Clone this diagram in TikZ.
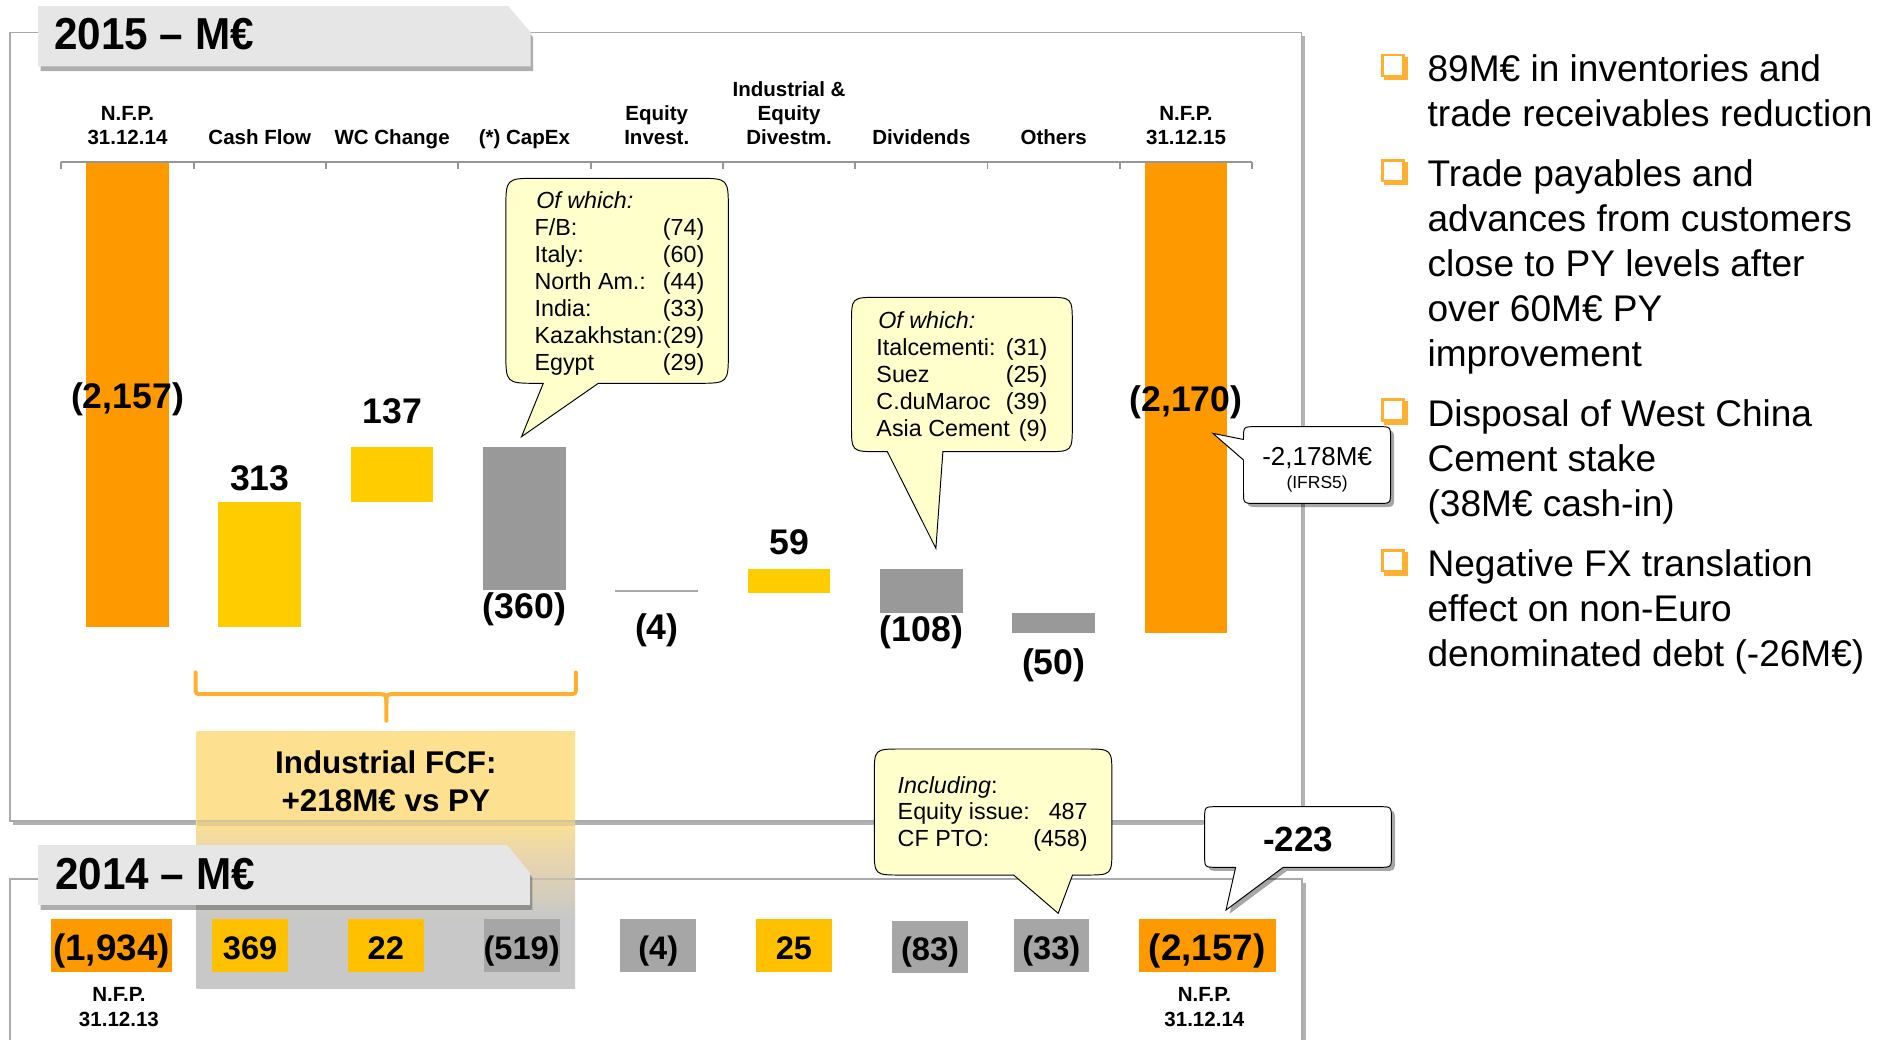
\documentclass[tikz,border=0pt]{standalone}
\usepackage{fontspec}
\setmainfont{Liberation Sans}
\usetikzlibrary{shadows}
\definecolor{nfp}{RGB}{255,153,0}
\definecolor{posbar}{RGB}{255,204,0}
\definecolor{posbox}{RGB}{255,192,0}
\definecolor{negbar}{RGB}{153,153,153}
\definecolor{negbox}{RGB}{166,166,166}
\definecolor{notefill}{RGB}{255,255,204}
\definecolor{tabgray}{RGB}{230,230,230}
\definecolor{framegray}{RGB}{170,170,170}
\definecolor{axisgray}{RGB}{150,150,150}
\definecolor{accent}{RGB}{255,176,48}
\definecolor{fcftop}{RGB}{253,225,145}
\definecolor{fcfmid}{RGB}{236,215,168}
\definecolor{fcfbot}{RGB}{200,200,200}
\pgfdeclareverticalshading{fcfshade}{100bp}{color(0bp)=(fcfbot); color(38.8bp)=(fcfbot); color(52bp)=(fcfmid); color(58bp)=(fcftop); color(100bp)=(fcftop)}
\newcommand\bulletsq[1]{%
  \fill[accent] (1146.5,#1-20.5) rectangle (1166,#1-1);
  \draw[accent, line width=2.2, fill=white] (1145.1,#1-21.9) rectangle (1162.4,#1-4.6);}
\begin{document}
\begin{tikzpicture}[x=1pt,y=-1pt,
  lbl/.style={inner sep=0pt, anchor=base, font=\fontsize{17}{20}\selectfont\bfseries},
  valtxt/.style={inner sep=0pt, anchor=base, font=\fontsize{29.5}{34}\selectfont\bfseries},
  notetxt/.style={inner sep=0pt, anchor=base west, font=\fontsize{19.3}{22}\selectfont},
  noteR/.style={notetxt, anchor=base east},
  bul/.style={inner sep=0pt, anchor=base west, font=\fontsize{30.7}{36}\selectfont},
  boxval/.style={inner sep=0pt, anchor=base, font=\fontsize{27}{30}\selectfont\bfseries},
  bigval/.style={inner sep=0pt, anchor=base, font=\fontsize{30.5}{34}\selectfont\bfseries},
  tabtitle/.style={inner sep=0pt, anchor=base west, font=\fontsize{35}{40}\selectfont\bfseries, yscale=1.06},
  framebox/.style={draw=framegray, line width=1.5, fill=white, drop shadow={shadow xshift=3pt, shadow yshift=-3pt, opacity=.3, fill=black}},
  tabshape/.style={fill=tabgray, drop shadow={shadow xshift=2pt, shadow yshift=-4pt, opacity=.45, fill=black!70}},
  yellownote/.style={draw=black, line width=0.8, fill=notefill},
  whitenote/.style={draw=black, line width=0.8, fill=white, drop shadow={shadow xshift=3pt, shadow yshift=-3pt, opacity=.35, fill=black}},
]
\clip (0,0) rectangle (1568,861);
\fill[white] (0,0) rectangle (1568,861);

% frames
\path[framebox] (8,27) rectangle (1078,680);
\path[framebox] (8.4,728.4) rectangle (1078.5,900);

% 2015 tab
\path[tabshape] (31.6,5) -- (421,5) -- (439.6,27) -- (439.6,55) -- (31.6,55) -- cycle;
\node[tabtitle] (t15) at (44.6,41.4) {2015 – M€};

% axis
\draw[axisgray, line width=1.7] (50.8,134.5) -- (1037.2,134.5);
\foreach \i in {0,...,9} \draw[axisgray, line width=1.5] ({50.8+109.6*\i},134.5) -- ++(0,5.5);

% category labels
\node[lbl] (c0a) at (105.6,100) {N.F.P.};
\node[lbl] (c0b) at (105.6,119.3) {31.12.14};
\node[lbl] (c1) at (215.2,119.3) {Cash Flow};
\node[lbl] (c2) at (324.8,119.3) {WC Change};
\node[lbl] (c3) at (434.4,119.3) {(*) CapEx};
\node[lbl] (c4a) at (544,99.6) {Equity};
\node[lbl] (c4b) at (544,119.3) {Invest.};
\node[lbl] (c5a) at (653.6,79.8) {Industrial \&};
\node[lbl] (c5b) at (653.6,99.6) {Equity};
\node[lbl] (c5c) at (653.6,119.3) {Divestm.};
\node[lbl] (c6) at (763.2,119.3) {Dividends};
\node[lbl] (c7) at (872.8,119.3) {Others};
\node[lbl] (c8a) at (982.4,100) {N.F.P.};
\node[lbl] (c8b) at (982.4,119.3) {31.12.15};

% bars
\fill[nfp] (71.35,135) rectangle (139.85,519);
\fill[posbar] (180.95,415.8) rectangle (249.45,519);
\fill[posbar] (290.55,370) rectangle (359.05,415.8);
\fill[negbar] (400.15,370) rectangle (468.65,488.7);
\fill[negbar!85] (509.75,488.7) rectangle (578.25,490.6);
\fill[posbar] (619.35,471.3) rectangle (687.85,491);
\fill[negbar] (728.95,471.3) rectangle (797.45,507.5);
\fill[negbar] (838.55,507.5) rectangle (907.05,524);
\fill[nfp] (948.15,135) rectangle (1016.65,524);

% values
\node[valtxt] (v0) at (105.6,338.2) {(2,157)};
\node[valtxt] (v1) at (215.2,405.9) {313};
\node[valtxt] (v2) at (324.8,350.6) {137};
\node[valtxt] (v3) at (434.4,512.2) {(360)};
\node[valtxt] (v4) at (544,530.1) {(4)};
\node[valtxt] (v5) at (653.6,459.7) {59};
\node[valtxt] (v6) at (763.2,531.5) {(108)};
\node[valtxt] (v7) at (872.8,559.1) {(50)};
\node[valtxt] (v8) at (982.4,341) {(2,170)};

% callout CapEx
\path[yellownote] (450,317.5) -- (432,361.7) -- (495.6,317.5) -- (577.3,317.5) .. controls (603.3,317.5) .. (603.3,291.5) -- (603.3,173.7) .. controls (603.3,147.7) .. (577.3,147.7) -- (445,147.7) .. controls (419,147.7) .. (419,173.7) -- (419,291.5) .. controls (419,317.5) .. (445,317.5) -- cycle;
\node[notetxt] (k0) at (444,172.5) {\itshape Of which:};
\node[notetxt] (k1) at (442.6,194.9) {F/B:};
\node[noteR] (k1n) at (583.6,194.9) {(74)};
\node[notetxt] (k2) at (442.6,217.3) {Italy:};
\node[noteR] (k2n) at (583.6,217.3) {(60)};
\node[notetxt] (k3) at (442.6,239.7) {North Am.:};
\node[noteR] (k3n) at (583.6,239.7) {(44)};
\node[notetxt] (k4) at (442.6,262.1) {India:};
\node[noteR] (k4n) at (583.6,262.1) {(33)};
\node[notetxt] (k5) at (442.6,284.5) {Kazakhstan:(29)};
\node[notetxt] (k6) at (442.6,306.9) {Egypt};
\node[noteR] (k6n) at (583.6,306.9) {(29)};

% callout dividends
\path[yellownote] (735,374.1) -- (775.2,454.2) -- (781,374.1) -- (866.2,374.1) .. controls (888.2,374.1) .. (888.2,352.1) -- (888.2,268.3) .. controls (888.2,246.3) .. (866.2,246.3) -- (727.3,246.3) .. controls (705.3,246.3) .. (705.3,268.3) -- (705.3,352.1) .. controls (705.3,374.1) .. (727.3,374.1) -- cycle;
\node[notetxt] (d0) at (727.3,272) {\itshape Of which:};
\node[notetxt] (d1) at (725.8,294.6) {Italcementi:};
\node[noteR] (d1n) at (867.7,294.6) {(31)};
\node[notetxt] (d2) at (725.8,317) {Suez};
\node[noteR] (d2n) at (867.7,317) {(25)};
\node[notetxt] (d3) at (725.8,339.4) {C.duMaroc};
\node[noteR] (d3n) at (867.7,339.4) {(39)};
\node[notetxt] (d4) at (725.8,361.8) {Asia Cement};
\node[noteR] (d4n) at (867.7,361.8) {(9)};

% callout IFRS5
\path[whitenote] (1030,364) -- (1004.7,359) -- (1030,381) -- (1030,407) .. controls (1030,417) .. (1040,417) -- (1141.8,417) .. controls (1151.8,417) .. (1151.8,407) -- (1151.8,363.4) .. controls (1151.8,353.4) .. (1141.8,353.4) -- (1040,353.4) .. controls (1030,353.4) .. (1030,363.4) -- cycle;
\node[inner sep=0pt, anchor=base, font=\fontsize{21.5}{25}\selectfont] (i1) at (1091,385.2) {-2,178M€};
\node[inner sep=0pt, anchor=base, font=\fontsize{14.5}{17}\selectfont] (i2) at (1091,404.5) {(IFRS5)};

% brace
\draw[accent, line width=3.3, line cap=round, line join=round]
  (162,557) -- (162,569) .. controls (162,575) .. (168,575) -- (313,575) .. controls (320,575) .. (320,582) -- (320,597);
\draw[accent, line width=3.3, line cap=round, line join=round]
  (320,582) .. controls (320,575) .. (327,575) -- (471,575) .. controls (477,575) .. (477,569) -- (477,557);

% Industrial FCF highlight
\shade[shading=fcfshade] (162.9,606) rectangle (476.3,818.6);
\draw[framegray, line width=1.5, opacity=.5] (162.9,680) -- (476.3,680);
\draw[black, line width=3, opacity=.08] (162.9,682.5) -- (476.3,682.5);
\draw[framegray, line width=1.5, opacity=.45] (162.9,728.4) -- (476.3,728.4);
\node[inner sep=0pt, anchor=base, font=\fontsize{26}{30}\selectfont\bfseries] (f1) at (319.6,640.5) {Industrial FCF:};
\node[inner sep=0pt, anchor=base, font=\fontsize{26}{30}\selectfont\bfseries] (f2) at (319.6,672.3) {+218M€ vs PY};

% 2014 tab
\path[tabshape] (31.6,700) -- (420,700) -- (439,723) -- (439,749.6) -- (31.6,749.6) -- cycle;
\node[tabtitle] (t14) at (45.6,737) {2014 – M€};

% 2014 row
\fill[nfp] (42.2,761.5) rectangle (142.6,804.8);
\fill[posbox] (175.6,761.5) rectangle (238.9,804.8);
\fill[posbox] (288,761.5) rectangle (351.2,804.8);
\fill[negbox] (400.5,761.5) rectangle (463.7,804.8);
\fill[negbox] (513.6,761.5) rectangle (576.8,804.8);
\fill[posbox] (626,761.5) rectangle (689.2,804.8);
\fill[negbox] (739.1,762.5) rectangle (801.6,805.7);
\fill[negbox] (839.6,761.5) rectangle (902,804.8);
\fill[nfp] (943.5,761.5) rectangle (1056.6,804.8);
\node[bigval] (p0) at (92.4,795.5) {(1,934)};
\node[boxval] (p1) at (207.2,795) {369};
\node[boxval] (p2) at (319.6,795) {22};
\node[boxval] (p3) at (432.1,795) {(519)};
\node[boxval] (p4) at (545.2,795) {(4)};
\node[boxval] (p5) at (657.6,795) {25};
\node[boxval] (p6) at (770.4,796) {(83)};
\node[boxval] (p7) at (870.8,795) {(33)};
\node[bigval] (p8) at (1000,795.5) {(2,157)};
\node[lbl] (n0a) at (98.5,829.7) {N.F.P.};
\node[lbl] (n0b) at (98.5,850.4) {31.12.13};
\node[lbl] (n8a) at (997.6,829.7) {N.F.P.};
\node[lbl] (n8b) at (997.6,850.4) {31.12.14};

% callout Including
\path[yellownote] (839.6,724.8) -- (876.5,756.5) -- (888.4,724.8) -- (899,724.8) .. controls (921,724.8) .. (921,702.8) -- (921,642.4) .. controls (921,620.4) .. (899,620.4) -- (746.2,620.4) .. controls (724.2,620.4) .. (724.2,642.4) -- (724.2,702.8) .. controls (724.2,724.8) .. (746.2,724.8) -- cycle;
\node[notetxt] (e0) at (743.4,657.1) {\textit{Including}:};
\node[notetxt] (e1) at (743.4,679.2) {Equity issue:};
\node[noteR] (e1n) at (901.1,679.2) {487};
\node[notetxt] (e2) at (743.4,701.3) {CF PTO:};
\node[noteR] (e2n) at (901.1,701.3) {(458)};

% callout -223
\path[whitenote] (1023.5,718.4) -- (1015.5,753.8) -- (1062.9,718.4) -- (1142.5,718.4) .. controls (1152.5,718.4) .. (1152.5,708.4) -- (1152.5,678.2) .. controls (1152.5,668.2) .. (1142.5,668.2) -- (1007.8,668.2) .. controls (997.8,668.2) .. (997.8,678.2) -- (997.8,708.4) .. controls (997.8,718.4) .. (1007.8,718.4) -- cycle;
\node[inner sep=0pt, anchor=base, font=\fontsize{29}{34}\selectfont\bfseries] (m223) at (1075.2,705.4) {-223};

% bullets
\bulletsq{67.6}
\node[bul] (b1a) at (1182.3,67.6) {89M€ in inventories and};
\node[bul] (b1b) at (1182.3,104.9) {trade receivables reduction};
\bulletsq{154.6}
\node[bul] (b2a) at (1182.3,154.6) {Trade payables and};
\node[bul] (b2b) at (1182.3,191.8) {advances from customers};
\node[bul] (b2c) at (1182.3,229) {close to PY levels after};
\node[bul] (b2d) at (1182.3,266.2) {over 60M€ PY};
\node[bul] (b2e) at (1182.3,303.4) {improvement};
\bulletsq{352.9}
\node[bul] (b3a) at (1182.3,352.9) {Disposal of West China};
\node[bul] (b3b) at (1182.3,390.4) {Cement stake};
\node[bul] (b3c) at (1182.3,428) {(38M€ cash-in)};
\bulletsq{477.7}
\node[bul] (b4a) at (1182.3,477.7) {Negative FX translation};
\node[bul] (b4b) at (1182.3,515) {effect on non-Euro};
\node[bul] (b4c) at (1182.3,552.2) {denominated debt (-26M€)};
\end{tikzpicture}
\end{document}
